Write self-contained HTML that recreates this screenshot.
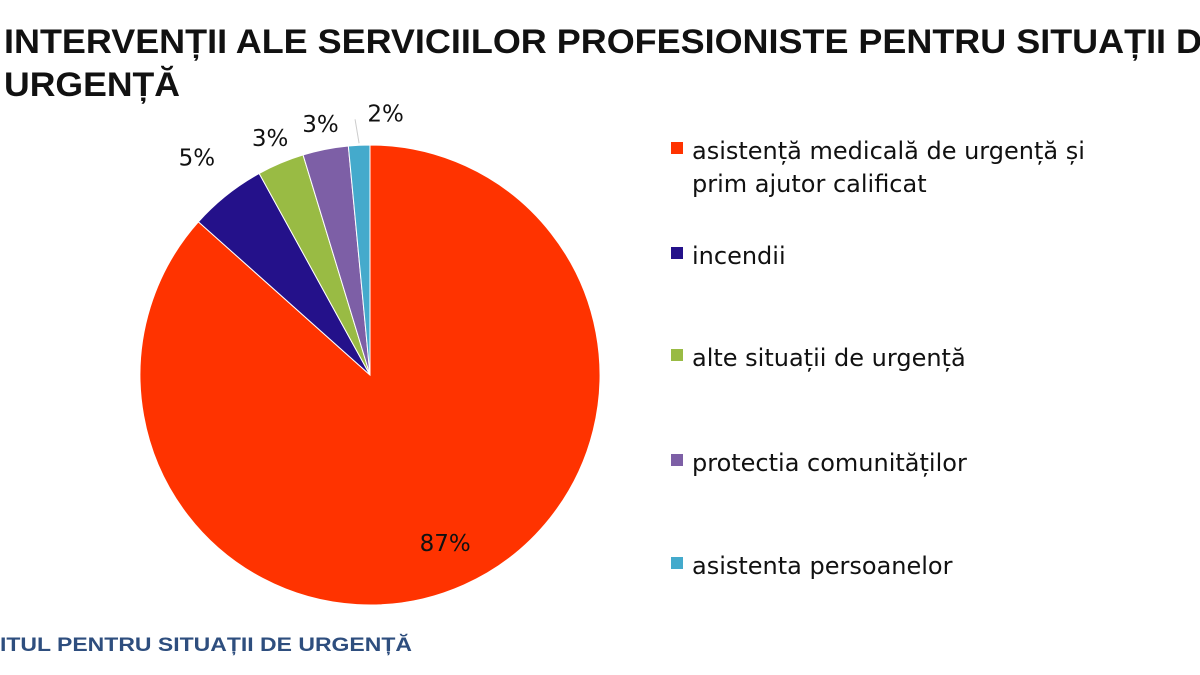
<!DOCTYPE html>
<html><head><meta charset="utf-8"><style>
html,body{margin:0;padding:0;background:#fff;}
svg{display:block;font-family:"Liberation Sans",sans-serif;}
</style></head><body>
<svg id="c" width="1200" height="675" viewBox="0 0 1200 675">
<text x="4" y="53" font-size="34" font-weight="bold" fill="#111" textLength="1222" lengthAdjust="spacingAndGlyphs">INTERVENȚII ALE SERVICIILOR PROFESIONISTE PENTRU SITUAȚII DE</text>
<text x="4" y="96" font-size="34" font-weight="bold" fill="#111" textLength="176" lengthAdjust="spacingAndGlyphs">URGENȚĂ</text>
<text x="0" y="651" font-size="19" font-weight="bold" fill="#2e4e7e" textLength="412" lengthAdjust="spacingAndGlyphs">ITUL PENTRU SITUAȚII DE URGENȚĂ</text>
<g id="slices"></g><g id="labels"></g><g id="legend"></g>
</svg>
<script>
const categories=["asistență medicală de urgență și|prim ajutor calificat","incendii","alte situații de urgență","protectia comunităților","asistenta persoanelor"];
const values=[86.6,5.4,3.3,3.2,1.5];
const colors=["#ff3300","#24118a","#99bb44","#7d5fa6","#44aacc"];
const NS="http://www.w3.org/2000/svg";
const cx=370,cy=375,r=230;
const labelR=[184,278,257,256,262];
const total=values.reduce((a,b)=>a+b,0);
const sl=document.getElementById('slices'),lb=document.getElementById('labels'),lg=document.getElementById('legend');
function pt(a,rr){return [cx+rr*Math.sin(a),cy-rr*Math.cos(a)];}
const FONT='"DejaVu Sans","Liberation Sans",sans-serif';
let acc=0;
values.forEach((v,i)=>{
  const a0=acc/total*2*Math.PI;acc+=v;const a1=acc/total*2*Math.PI;
  const p0=pt(a0,r),p1=pt(a1,r);
  const p=document.createElementNS(NS,'path');
  p.setAttribute('d',`M${cx},${cy}L${p0[0]},${p0[1]}A${r},${r} 0 ${a1-a0>Math.PI?1:0} 1 ${p1[0]},${p1[1]}Z`);
  p.setAttribute('fill',colors[i]);p.setAttribute('stroke','#fff');p.setAttribute('stroke-width','1');
  
  
  sl.appendChild(p);
  const am=(a0+a1)/2;
  const lp=pt(am,labelR[i]);
  if(i===4){lp[0]+=28;}
  const t=document.createElementNS(NS,'text');
  t.setAttribute('x',lp[0]);t.setAttribute('y',lp[1]+8);t.setAttribute('text-anchor','middle');
  t.setAttribute('font-size','23');t.setAttribute('fill','#111');t.setAttribute('font-family',FONT);
  t.textContent=Math.round(v/total*100)+'%';
  
  
  lb.appendChild(t);
  if(i===4){const q=pt(am,r+2);const l=document.createElementNS(NS,'line');
    l.setAttribute('x1',q[0]);l.setAttribute('y1',q[1]);l.setAttribute('x2',q[0]-4);l.setAttribute('y2',lp[1]+6);
    l.setAttribute('stroke','#ccc');l.setAttribute('stroke-width','1');
    
    
    lb.appendChild(l);}
  const ly=[150,255,357,462,565][i];
  const m=document.createElementNS(NS,'rect');
  m.setAttribute('x',671);m.setAttribute('y',ly-8);m.setAttribute('width',12);m.setAttribute('height',12);m.setAttribute('fill',colors[i]);
  
  
  lg.appendChild(m);
  categories[i].split('|').forEach((s,k)=>{
    const tt=document.createElementNS(NS,'text');
    tt.setAttribute('x',692);tt.setAttribute('y',ly+9+k*33);tt.setAttribute('font-size','24');tt.setAttribute('fill','#111');
    tt.setAttribute('font-family',FONT);
    tt.textContent=s;
    
    
    lg.appendChild(tt);
  });
});
</script>
</body></html>
